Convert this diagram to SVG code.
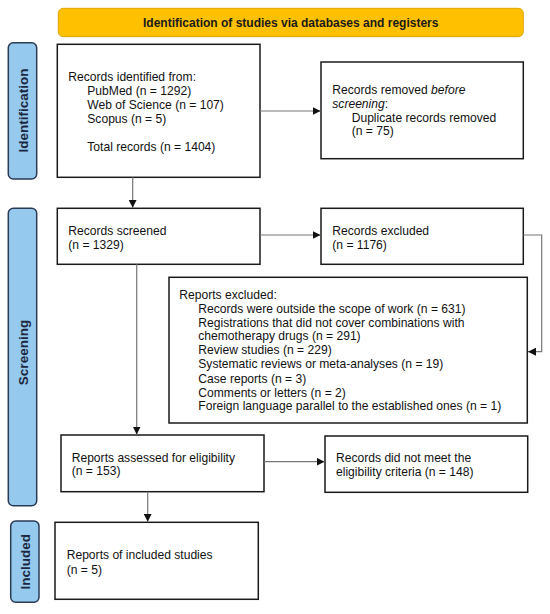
<svg xmlns="http://www.w3.org/2000/svg" width="550" height="614" viewBox="0 0 550 614">
<style>
.box{fill:#fff;stroke:#1a1a1a;stroke-width:1.5}
.t{font-family:"Liberation Sans",Arial,sans-serif;font-size:12.1px;fill:#111}
.side{fill:#95c9ee;stroke:#2b3a55;stroke-width:1.5}
.st{font-family:"Liberation Sans",Arial,sans-serif;font-size:13.5px;font-weight:bold;fill:#1c2740;text-anchor:middle}
.bt{font-family:"Liberation Sans",Arial,sans-serif;font-size:12px;font-weight:bold;fill:#1a1a1a;text-anchor:middle}
.c{fill:none;stroke:#777;stroke-width:1.2}
</style>
<defs>
<marker id="ah" markerUnits="userSpaceOnUse" markerWidth="9" markerHeight="8" refX="8" refY="4" orient="auto">
<path d="M0,0 L8,4 L0,8 Z" fill="#111"/>
</marker>
</defs>
<rect width="550" height="614" fill="#fff"/>
<g id="banner">
<rect x="58.3" y="8.3" width="465" height="28.4" rx="5" fill="#ffc000" stroke="#e0a300" stroke-width="1"/>
<text class="bt" x="290.7" y="26.5">Identification of studies via databases and registers</text>
</g>
<g id="lbl-identification">
<rect class="side" x="8.3" y="42.7" width="28.4" height="136.3" rx="5"/>
<text class="st" transform="translate(27.5,110.5) rotate(-90)">Identification</text>
</g>
<g id="lbl-screening">
<rect class="side" x="8.3" y="208.3" width="28.4" height="297.4" rx="5"/>
<text class="st" transform="translate(27.5,352.5) rotate(-90)">Screening</text>
</g>
<g id="lbl-included">
<rect class="side" x="10.7" y="521" width="28.3" height="81.3" rx="5"/>
<text class="st" transform="translate(29.8,561.7) rotate(-90)">Included</text>
</g>
<g id="identified">
<rect class="box" x="57.3" y="44.3" width="202.7" height="133"/>
<text class="t" x="68.3" y="81">Records identified from:</text>
<text class="t" x="87.3" y="95">PubMed (n = 1292)</text>
<text class="t" x="87.3" y="108.6">Web of Science (n = 107)</text>
<text class="t" x="87.3" y="122.6">Scopus (n = 5)</text>
<text class="t" x="87.3" y="151">Total records (n = 1404)</text>
</g>
<g id="removed">
<rect class="box" x="321" y="62" width="202.3" height="96.7"/>
<text class="t" x="332.3" y="93.6">Records removed <tspan font-style="italic">before</tspan></text>
<text class="t" x="332.3" y="107.6"><tspan font-style="italic">screening</tspan>:</text>
<text class="t" x="351.7" y="121.6">Duplicate records removed</text>
<text class="t" x="351.7" y="135.3">(n = 75)</text>
</g>
<g id="screened">
<rect class="box" x="57.3" y="208.3" width="202.7" height="56"/>
<text class="t" x="68.3" y="235">Records screened</text>
<text class="t" x="68.3" y="248.6">(n = 1329)</text>
</g>
<g id="excluded">
<rect class="box" x="321" y="208.3" width="202.3" height="56"/>
<text class="t" x="332.3" y="235">Records excluded</text>
<text class="t" x="332.3" y="248.6">(n = 1176)</text>
</g>
<g id="reports-excluded">
<rect class="box" x="169" y="277.3" width="358.3" height="145.7"/>
<text class="t" x="179.3" y="299.3">Reports excluded:</text>
<text class="t" x="198.3" y="312.6">Records were outside the scope of work (n = 631)</text>
<text class="t" x="198.3" y="326.6">Registrations that did not cover combinations with</text>
<text class="t" x="198.3" y="340.3">chemotherapy drugs (n = 291)</text>
<text class="t" x="198.3" y="354.3">Review studies (n = 229)</text>
<text class="t" x="198.3" y="368.3">Systematic reviews or meta-analyses (n = 19)</text>
<text class="t" x="198.3" y="382.6">Case reports (n = 3)</text>
<text class="t" x="198.3" y="396.6">Comments or letters (n = 2)</text>
<text class="t" x="198.3" y="410.3">Foreign language parallel to the established ones (n = 1)</text>
</g>
<g id="eligibility">
<rect class="box" x="61" y="435" width="203" height="56.7"/>
<text class="t" x="71.7" y="461.6">Reports assessed for eligibility</text>
<text class="t" x="71.7" y="475.3">(n = 153)</text>
</g>
<g id="not-eligible">
<rect class="box" x="325" y="436" width="202.7" height="56.3"/>
<text class="t" x="336" y="462">Records did not meet the</text>
<text class="t" x="336" y="476">eligibility criteria (n = 148)</text>
</g>
<g id="included">
<rect class="box" x="55" y="522.3" width="203.3" height="77"/>
<text class="t" x="66.7" y="559.3">Reports of included studies</text>
<text class="t" x="66.7" y="573.6">(n = 5)</text>
</g>
<g id="connectors">
<path class="c" d="M260,111 H320.5" marker-end="url(#ah)"/>
<path class="c" d="M132.7,177.3 V207.8" marker-end="url(#ah)"/>
<path class="c" d="M260,235 H320.5" marker-end="url(#ah)"/>
<path class="c" d="M523.3,235 H541.7 V351.7 H528" marker-end="url(#ah)"/>
<path class="c" d="M136.7,264.3 V434.5" marker-end="url(#ah)"/>
<path class="c" d="M264,461.7 H324.5" marker-end="url(#ah)"/>
<path class="c" d="M147.7,491.7 V521.8" marker-end="url(#ah)"/>
</g>
</svg>
